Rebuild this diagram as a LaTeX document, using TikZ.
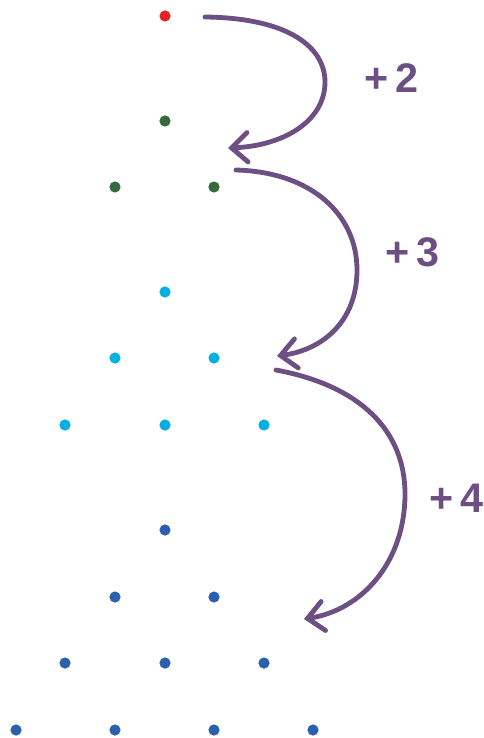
\documentclass[tikz,border=0pt]{standalone}
\usepackage{fontspec}
\setsansfont{Liberation Sans}
\usepackage{xcolor}
\usetikzlibrary{arrows.meta, positioning, calc}

\definecolor{dotred}{HTML}{E8202A}
\definecolor{dotgreen}{HTML}{356B3C}
\definecolor{dotcyan}{HTML}{00B0E0}
\definecolor{dotblue}{HTML}{2C5FAD}
\definecolor{steppurple}{HTML}{6C4F83}

\begin{document}
\begin{tikzpicture}[
    x=0.75pt, y=-0.75pt,
    dot/.style={circle, inner sep=0pt, minimum size=8.4pt},
    jump/.style={draw=steppurple, line width=3.6pt, line cap=round,
        -{Straight Barb[length=12pt, width=22pt, line width=3.6pt, line cap=round]}},
    gain/.style={text=steppurple, font=\sffamily\bfseries\fontsize{31}{31}\selectfont}
]
    \useasboundingbox (0,0) rectangle (483,738);

    % first figure
    \node[dot, fill=dotred] (r1) at (165,16) {};

    % second figure
    \node[dot, fill=dotgreen] (g1) at (165,121) {};
    \node[dot, fill=dotgreen] (g2) at (115,187) {};
    \node[dot, fill=dotgreen] (g3) at (214,187) {};

    % third figure
    \node[dot, fill=dotcyan] (c1) at (165,292) {};
    \node[dot, fill=dotcyan] (c2) at (115,358) {};
    \node[dot, fill=dotcyan] (c3) at (214,358) {};
    \node[dot, fill=dotcyan] (c4) at (65,425) {};
    \node[dot, fill=dotcyan] (c5) at (165,425) {};
    \node[dot, fill=dotcyan] (c6) at (264,425) {};

    % fourth figure
    \node[dot, fill=dotblue] (b1) at (165,530) {};
    \node[dot, fill=dotblue] (b2) at (115,597) {};
    \node[dot, fill=dotblue] (b3) at (214,597) {};
    \node[dot, fill=dotblue] (b4) at (65,663) {};
    \node[dot, fill=dotblue] (b5) at (165,663) {};
    \node[dot, fill=dotblue] (b6) at (264,663) {};
    \node[dot, fill=dotblue] (b7) at (16,730) {};
    \node[dot, fill=dotblue] (b8) at (115,730) {};
    \node[dot, fill=dotblue] (b9) at (214,730) {};
    \node[dot, fill=dotblue] (b10) at (313,730) {};

    % arrow ends
    \coordinate (s1) at (205,17);
    \coordinate (e1) at (228,148);
    \coordinate (s2) at (236,170);
    \coordinate (e2) at (277,356);
    \coordinate (s3) at (276,370);
    \coordinate (e3) at (304,619);

    \draw[jump] (s1) .. controls (290,18) and (325,48) .. (325,82)
        .. controls (325,122) and (282,146) .. (e1);
    \draw[jump] (s2) .. controls (312,172) and (357,215) .. (357,270)
        .. controls (357,322) and (322,350) .. (e2);
    \draw[jump] (s3) .. controls (362,386) and (405,432) .. (405,494)
        .. controls (405,562) and (362,610) .. (e3);

    \node[gain] (p2) at (392,78) {+\,2};
    \node[gain] (p3) at (413,252) {+\,3};
    \node[gain] (p4) at (456,498) {+\,4};
\end{tikzpicture}
\end{document}
